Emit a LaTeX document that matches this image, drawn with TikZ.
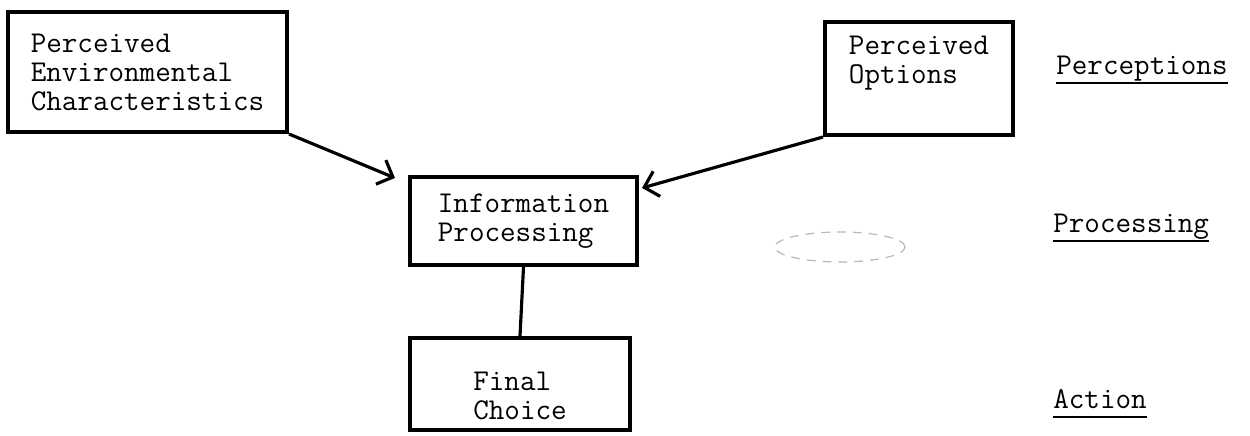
\documentclass[tikz,border=0pt]{standalone}
\usepackage{fontspec}
\usetikzlibrary{shapes,arrows.meta}

\newcommand{\ulbl}[1]{\setbox0\hbox{#1}\rlap{\rule[-0.18cm]{\wd0}{0.04cm}}\box0}
\newcommand{\typefont}{\ttfamily\fontsize{17.2}{16.5}\selectfont\addfontfeatures{FakeBold=1.2}}

\begin{document}
\begin{tikzpicture}[
  box/.style={shape=rectangle,draw=black,align=left,line width=2.3pt,inner sep=0pt,font=\typefont},
  lbl/.style={anchor=base west,inner sep=0pt,font=\typefont},
  flow/.style={-{Straight Barb[length=2.6mm,width=5.2mm]},draw=black,line width=1.8pt},
  link/.style={draw=black,line width=1.8pt}]
\useasboundingbox (0,0) rectangle (25,8.72);
\node[box,minimum width=5.58cm,minimum height=2.4cm] (0) at (2.95,7.28) {Perceived\\Environmental\\Characteristics};
\node[box,minimum width=3.76cm,minimum height=2.26cm] (1) at (18.38,7.15) {Perceived\\Options\rule[-0.75cm]{0pt}{0.75cm}};
\node[box,minimum width=4.54cm,minimum height=1.76cm] (2) at (10.47,4.3) {Information\\Processing};
\node[box,minimum width=4.4cm,minimum height=1.84cm] (3) at (10.4,1.04) {\rule{0pt}{0.86cm}Final\\Choice};

\node[lbl] (4) at (21.12,7.22) {\ulbl{Perceptions}};
\node[lbl] (5) at (21.06,4.06) {\ulbl{Processing}};
\node[lbl] (6) at (21.06,0.54) {\ulbl{Action}};

\draw[gray!55,line width=0.7pt,dash pattern=on 5pt off 4pt] (16.8,3.78) ellipse (1.3 and 0.3);

\draw [flow] (0.south east) -- ([shift={(-0.26,-0.06)}]2.north west);
\draw [flow] (1.south west) -- ([shift={(0.06,-0.26)}]2.north east);
\draw [link] (2.south) -- (3.north);
\end{tikzpicture}
\end{document}
